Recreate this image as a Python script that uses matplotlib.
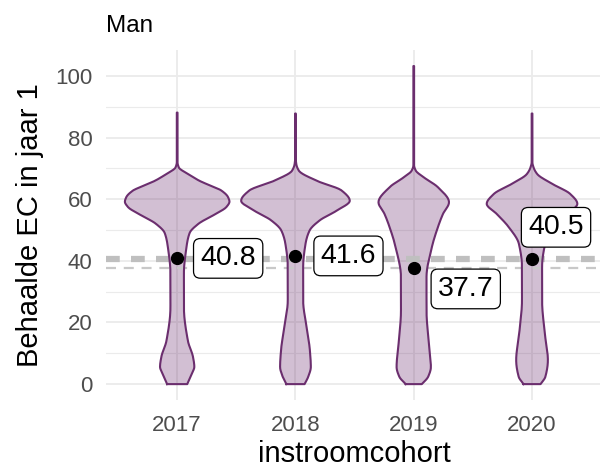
import numpy as np
import matplotlib
matplotlib.use("Agg")
import matplotlib.pyplot as plt

plt.rcParams['font.family'] = ['Liberation Sans', 'DejaVu Sans']

# data
cohorts = ['2017', '2018', '2019', '2020']
means = [40.8, 41.6, 37.7, 40.5]
ref_thick = 40.6
ref_thin = 37.7

# violin outlines: EC levels and half-width (in category units) at each level
ec_2017 = [0, 1.5, 3.5, 5.6, 8.8, 14, 25, 36, 44, 49, 52, 55, 57.5, 59.2, 60.6, 62.8, 64.4, 66, 68.2, 70.3, 72, 88.1]
hw_2017 = [.085, .102, .125, .145, .134, .091, .057, .057, .077, .105, .179, .315, .417, .442, .431, .374, .281, .187, .091, .014, .003, .003]
ec_2018 = [0, 2.4, 5.6, 11, 18.5, 27.2, 38, 45.5, 49.8, 53.1, 56.3, 59.5, 62.8, 66, 69.3, 71.4, 73, 87.8]
hw_2018 = [.077, .108, .130, .122, .094, .065, .065, .085, .119, .204, .349, .459, .391, .179, .028, .007, .003, .003]
ec_2019 = [0, 2.4, 5.6, 13.2, 23.9, 34.7, 44.4, 50.9, 55.2, 59.0, 63.9, 67.1, 69.3, 71, 103.2]
hw_2019 = [.068, .122, .145, .128, .108, .108, .153, .204, .247, .298, .204, .085, .017, .003, .003]
ec_2020 = [0, 2.4, 7.8, 16.5, 27.2, 38, 45.5, 50.9, 55.2, 58.5, 61.7, 65, 68.2, 70.3, 72, 87.8]
hw_2020 = [.072, .113, .134, .108, .085, .085, .111, .196, .298, .383, .323, .170, .043, .013, .003, .003]

violins = [(ec_2017, hw_2017), (ec_2018, hw_2018), (ec_2019, hw_2019), (ec_2020, hw_2020)]

# label offsets (pixels) like ggrepel placed them
label_offsets = [(51, 0), (53, 0), (52, -21), (24, 32)]

purple = '#6b2e6e'
grid_col = '#ebebeb'


def smooth_outline(x, y, n=400):
    # monotone cubic (pchip) so the outline is rounded like a density curve
    x = np.asarray(x, float)
    y = np.asarray(y, float)
    h = np.diff(x)
    d = np.diff(y) / h
    m = np.zeros_like(y)
    m[0], m[-1] = d[0], d[-1]
    for k in range(1, len(x) - 1):
        if d[k - 1] * d[k] > 0:
            w1 = 2 * h[k] + h[k - 1]
            w2 = h[k] + 2 * h[k - 1]
            m[k] = (w1 + w2) / (w1 / d[k - 1] + w2 / d[k])
    xn = np.linspace(x[0], x[-1], n)
    i = np.clip(np.searchsorted(x, xn) - 1, 0, len(x) - 2)
    t = (xn - x[i]) / h[i]
    h00 = 2 * t**3 - 3 * t**2 + 1
    h10 = t**3 - 2 * t**2 + t
    h01 = -2 * t**3 + 3 * t**2
    h11 = t**3 - t**2
    yn = h00 * y[i] + h10 * h[i] * m[i] + h01 * y[i + 1] + h11 * h[i] * m[i + 1]
    return xn, yn


fig = plt.figure(figsize=(6, 4.72), dpi=100)
ax = fig.add_axes([0.177, 0.1525, 0.828, 0.7415])

xs = np.arange(1, len(cohorts) + 1)
for x, (ec, hw) in zip(xs, violins):
    ecs, hws = smooth_outline(ec, hw)
    ax.fill_betweenx(ecs, x - hws, x + hws, facecolor=purple, alpha=0.3, lw=0, zorder=2)
    outline_x = np.concatenate([x - hws, (x + hws)[::-1], [x - hws[0]]])
    outline_y = np.concatenate([ecs, ecs[::-1], [ecs[0]]])
    ax.plot(outline_x, outline_y, color=purple, lw=1.5, zorder=3, solid_joinstyle='round')

ax.axhline(ref_thick, color='#bfbfbf', lw=4.5, dashes=(2.2, 1.8), zorder=2.5)
ax.axhline(ref_thin, color='#c8c8c8', lw=1.6, dashes=(4.5, 3.5), zorder=2.5)

ax.plot(xs, means, 'o', color='black', ms=8.5, zorder=4)
for x, m, (dx, dy) in zip(xs, means, label_offsets):
    ax.annotate(f'{m:.1f}', (x, m), xytext=(dx, dy), textcoords='offset pixels',
                ha='center', va='center', fontsize=20.5, zorder=5,
                bbox=dict(boxstyle='round,pad=0.24', fc='white', ec='black', lw=0.9))

ax.set_xlim(0.4, 4.6)
ax.set_ylim(-5.16, 108.4)
ax.set_xticks(xs)
ax.set_xticklabels(cohorts)
ax.set_yticks([0, 20, 40, 60, 80, 100])
ax.set_yticks([10, 30, 50, 70, 90], minor=True)
ax.grid(True, which='major', color=grid_col, lw=1.3, zorder=0)
ax.grid(True, which='minor', axis='y', color=grid_col, lw=0.8, zorder=0)
ax.set_axisbelow(True)
for s in ax.spines.values():
    s.set_visible(False)
ax.tick_params(which='both', length=0, labelsize=16, labelcolor='#4d4d4d')
ax.tick_params(axis='y', pad=10)
ax.tick_params(axis='x', pad=11)

ax.set_xlabel('instroomcohort', fontsize=21, labelpad=3)
ax.set_ylabel('Behaalde EC in jaar 1', fontsize=21, labelpad=8)
ax.set_title('Man', loc='left', fontsize=17.5, pad=13)

fig.savefig('out.png', dpi=100)
